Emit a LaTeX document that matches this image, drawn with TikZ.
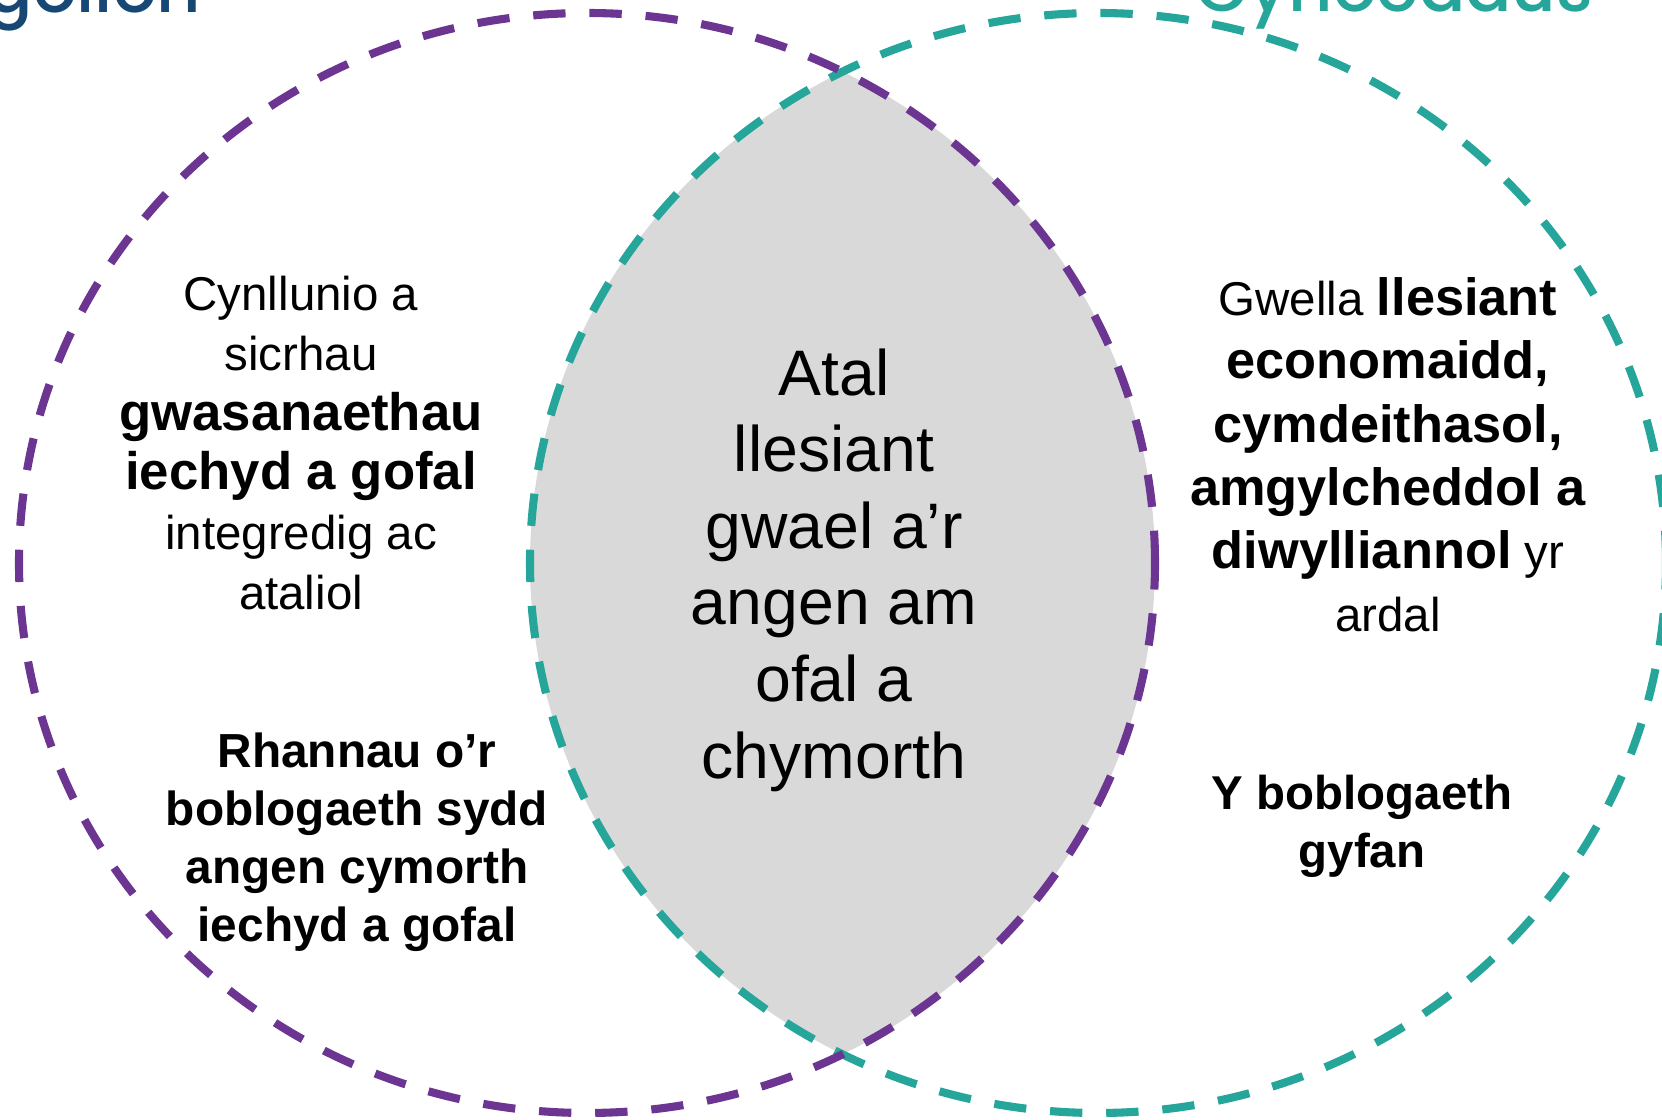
\documentclass[tikz,border=0pt]{standalone}
\usepackage{fontspec}
\setmainfont{Liberation Sans}
\newfontfamily\headfont{Poppins Medium}

\definecolor{vennpurple}{RGB}{107,53,145}
\definecolor{vennteal}{RGB}{38,166,154}
\definecolor{vennblue}{RGB}{22,72,115}
\definecolor{venngray}{RGB}{217,217,217}

\tikzstyle{ring}=[line width=2.3pt,
    dash pattern=on 9.2pt off 6.8pt]
\tikzstyle{label}=[align=center,
    inner sep=0pt,
    text=black]
\tikzstyle{heading}=[inner sep=0pt,
    font=\headfont\fontsize{19.5}{22}\selectfont]

\newcommand{\bt}[1]{{\bfseries\fontsize{15}{17}\selectfont #1}}
\newcommand{\rb}[1]{{\bfseries\fontsize{14.9}{18}\selectfont #1}}

\begin{document}
\begin{tikzpicture}
    \useasboundingbox (0,0) rectangle (16.62,11.20);
    \clip (0,0) rectangle (16.62,11.20);
    % shared part
    \begin{scope}
        \clip (5.87,5.57) ellipse [x radius=5.68, y radius=5.50];
        \fill [venngray] (10.98,5.57) ellipse [x radius=5.68, y radius=5.50];
    \end{scope}
    \draw [ring,draw=vennteal] (10.98,5.57) ellipse [x radius=5.68, y radius=5.50];
    \draw [ring,draw=vennpurple] (5.87,5.57) ellipse [x radius=5.68, y radius=5.50];

    \node (left) [heading,anchor=base east,text=vennblue] at (2.02,11.07) {Unigolion};
    \node (right) [heading,anchor=base west,text=vennteal] at (11.95,11.08) {Cyhoeddus};

    \node (plan) [label,font=\fontsize{13.5}{17}\selectfont] at (3.01,6.77)
        {Cynllunio a\\ sicrhau\\ \bt{gwasanaethau}\\ \bt{iechyd a gofal}\\ integredig ac\\ ataliol};
    \node (groups) [label,font=\bfseries\fontsize{13.6}{16.5}\selectfont] at (3.57,2.78)
        {Rhannau o’r\\ boblogaeth sydd\\ angen cymorth\\ iechyd a gofal};
    \node (prevent) [label,font=\fontsize{18.3}{21.8}\selectfont] at (8.34,5.50)
        {Atal\\ llesiant\\ gwael a’r\\ angen am\\ ofal a\\ chymorth};
    \node (wellbeing) [label,font=\fontsize{13.5}{18}\selectfont] at (13.88,6.65)
        {Gwella \rb{llesiant}\\ \rb{economaidd,}\\ \rb{cymdeithasol,}\\
         \rb{amgylcheddol a}\\ \rb{diwylliannol} yr\\ ardal};
    \node (whole) [label,font=\bfseries\fontsize{13.5}{16.5}\selectfont] at (13.62,2.94)
        {Y boblogaeth\\ gyfan};
\end{tikzpicture}
\end{document}
